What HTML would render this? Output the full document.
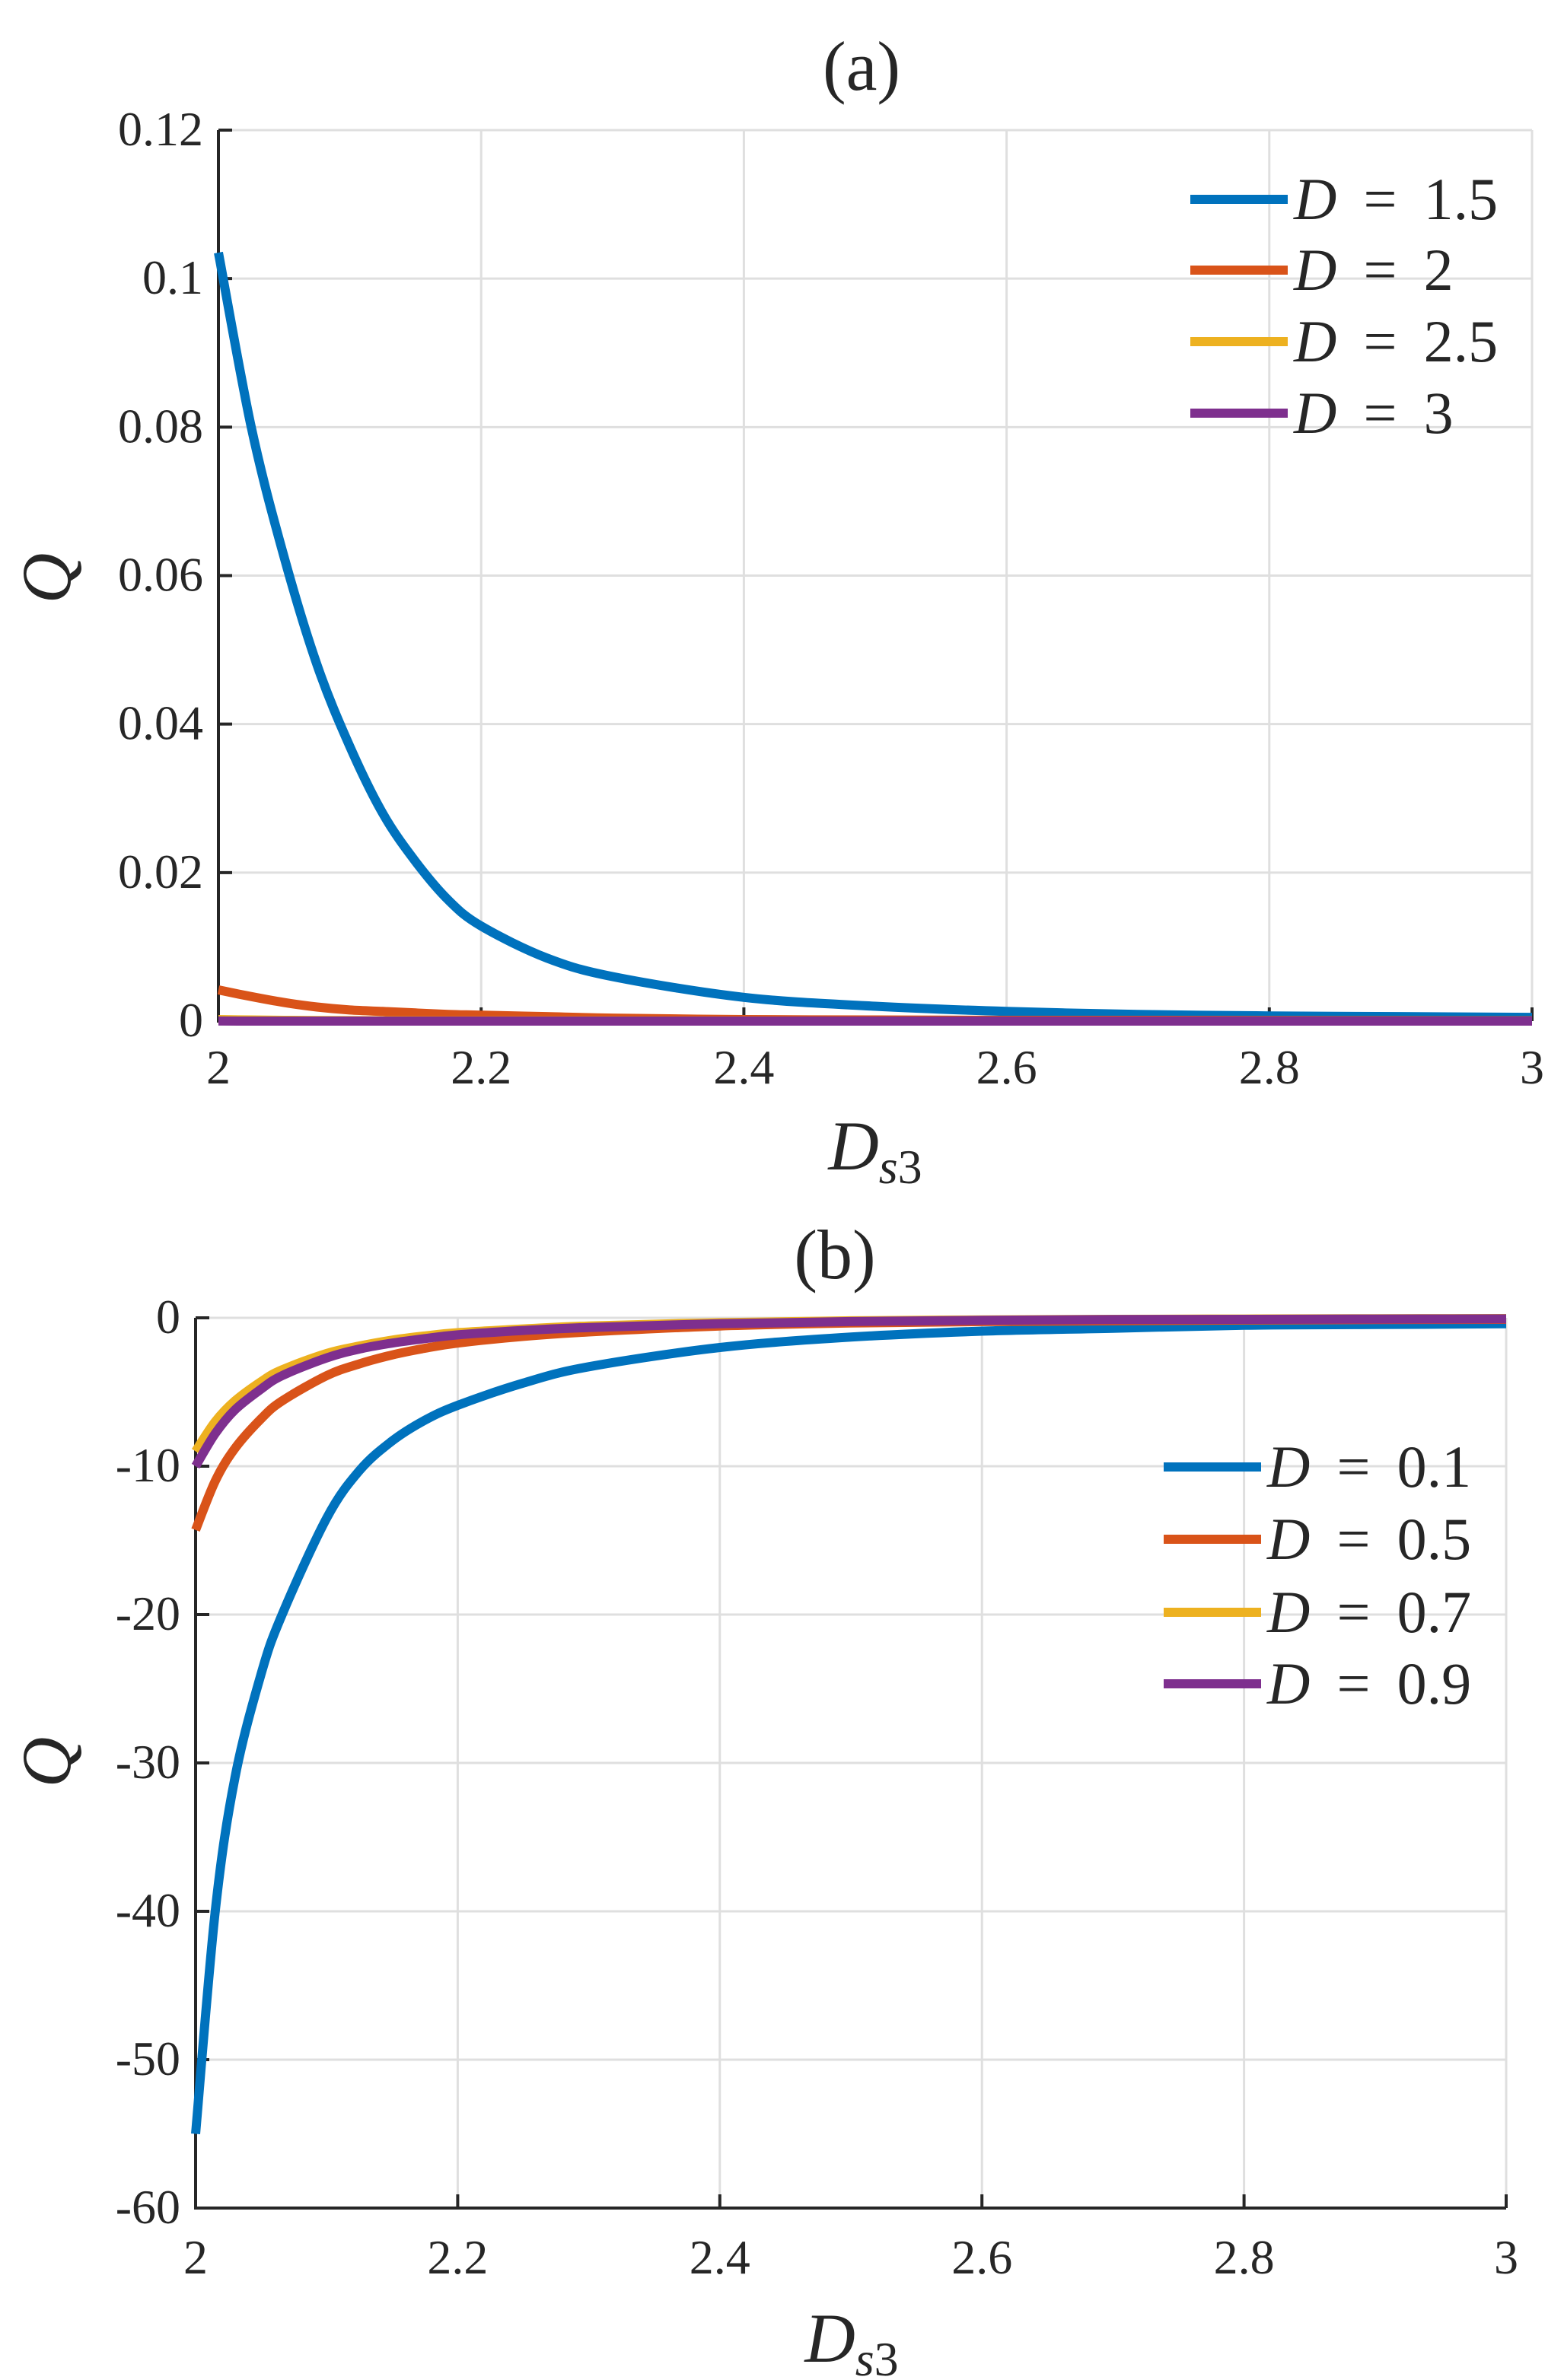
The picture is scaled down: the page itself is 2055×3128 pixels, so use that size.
<!DOCTYPE html>
<html><head><meta charset="utf-8"><style>
html,body{margin:0;padding:0;background:#fff;}
svg{display:block;}
text{font-family:"Liberation Serif",serif;fill:#262626;}
</style></head><body>
<svg id="fig" width="2055" height="3128" viewBox="0 0 2055 3128" xmlns="http://www.w3.org/2000/svg"></svg>
<script>
// ---- Panel (a) data ----
const xA = [2, 2.025, 2.05, 2.075, 2.1, 2.125, 2.15, 2.175, 2.2, 2.25, 2.3, 2.4, 2.5, 2.6, 2.7, 2.8, 2.9, 3];
const aD15 = [0.1035, 0.080, 0.0625, 0.048, 0.037, 0.028, 0.0215, 0.0163, 0.0128, 0.0085, 0.0060, 0.0032, 0.0020, 0.0013, 0.0009, 0.0007, 0.0006, 0.0005];
const aD2 = [0.0042, 0.0033, 0.0025, 0.0019, 0.0015, 0.0013, 0.0011, 0.0009, 0.0008, 0.0006, 0.0004, 0.0002, 0.00015, 0.0001, 0.0001, 0.00008, 0.00006, 0.00005];
const aD25 = [0.0002, 0.00015, 0.0001, 0.00008, 0.00006, 0.00005, 0.00004, 0.00003, 0.00003, 0.00002, 0.00002, 0.00001, 0, 0, 0, 0, 0, 0];
const aD3 = [0.00001, 0, 0, 0, 0, 0, 0, 0, 0, 0, 0, 0, 0, 0, 0, 0, 0, 0];
const aLabels = ["D = 1.5", "D = 2", "D = 2.5", "D = 3"];
const aYTicks = [0, 0.02, 0.04, 0.06, 0.08, 0.1, 0.12];
const aYTickLabels = ["0", "0.02", "0.04", "0.06", "0.08", "0.1", "0.12"];
// ---- Panel (b) data ----
const xB = [2, 2.015, 2.03, 2.05, 2.066, 2.1, 2.125, 2.15, 2.175, 2.2, 2.25, 2.3, 2.4, 2.5, 2.6, 2.7, 2.8, 2.9, 3];
const bD01 = [-55, -40, -31, -24, -20, -13.5, -10.3, -8.3, -6.9, -5.9, -4.4, -3.3, -2.0, -1.3, -0.9, -0.7, -0.5, -0.45, -0.4];
const bD05 = [-14.3, -11, -8.8, -6.8, -5.6, -3.9, -3.1, -2.5, -2.05, -1.7, -1.25, -0.95, -0.55, -0.35, -0.25, -0.2, -0.15, -0.12, -0.1];
const bD07 = [-9, -7.0, -5.6, -4.3, -3.5, -2.4, -1.9, -1.5, -1.22, -1.0, -0.75, -0.55, -0.33, -0.2, -0.14, -0.1, -0.08, -0.06, -0.05];
const bD09 = [-10, -7.8, -6.2, -4.8, -3.9, -2.7, -2.1, -1.7, -1.4, -1.15, -0.85, -0.65, -0.4, -0.25, -0.17, -0.12, -0.1, -0.08, -0.07];
const bLabels = ["D = 0.1", "D = 0.5", "D = 0.7", "D = 0.9"];
const bYTicks = [-60, -50, -40, -30, -20, -10, 0];
const bYTickLabels = ["-60", "-50", "-40", "-30", "-20", "-10", "0"];
const xTicks = [2, 2.2, 2.4, 2.6, 2.8, 3];
const xTickLabels = ["2", "2.2", "2.4", "2.6", "2.8", "3"];
const colors = ["#0072BD", "#D95319", "#EDB120", "#7E2F8E"];

const NS = "http://www.w3.org/2000/svg";
const svg = document.getElementById("fig");
function mk(tag, attrs, parent) {
  const e = document.createElementNS(NS, tag);
  for (const k in attrs) e.setAttribute(k, attrs[k]);
  (parent || svg).appendChild(e);
  return e;
}
function smoothPath(pts) {
  let d = "M" + pts[0][0].toFixed(1) + "," + pts[0][1].toFixed(1);
  for (let i = 0; i < pts.length - 1; i++) {
    const p0 = pts[i - 1] || pts[i], p1 = pts[i], p2 = pts[i + 1], p3 = pts[i + 2] || p2;
    const c1 = [p1[0] + (p2[0] - p0[0]) / 6, p1[1] + (p2[1] - p0[1]) / 6];
    const c2 = [p2[0] - (p3[0] - p1[0]) / 6, p2[1] - (p3[1] - p1[1]) / 6];
    d += " C" + c1[0].toFixed(1) + "," + c1[1].toFixed(1) + " " + c2[0].toFixed(1) + "," + c2[1].toFixed(1) + " " + p2[0].toFixed(1) + "," + p2[1].toFixed(1);
  }
  return d;
}

function panel(cfg) {
  const g = mk("g", {});
  
  
  const sx = v => cfg.L + (v - 2) / 1 * (cfg.R - cfg.L);
  const sy = v => cfg.B - (v - cfg.ymin) / (cfg.ymax - cfg.ymin) * (cfg.B - cfg.T);
  xTicks.forEach(t => {
    const l = mk("line", {x1: sx(t), x2: sx(t), y1: cfg.T, y2: cfg.B, stroke: "#dfdfdf", "stroke-width": 3}, g);
    
    
  });
  cfg.yTicks.forEach(t => {
    const l = mk("line", {x1: cfg.L, x2: cfg.R, y1: sy(t), y2: sy(t), stroke: "#dfdfdf", "stroke-width": 3}, g);
    
    
  });
  const ax = mk("path", {d: `M${cfg.L},${cfg.T} L${cfg.L},${cfg.B} L${cfg.R},${cfg.B}`, fill: "none", stroke: "#262626", "stroke-width": 4}, g);
  
  
  xTicks.forEach(t => { mk("line", {x1: sx(t), x2: sx(t), y1: cfg.B, y2: cfg.B - 18, stroke: "#262626", "stroke-width": 4}, g); });
  cfg.yTicks.forEach(t => { mk("line", {x1: cfg.L, x2: cfg.L + 18, y1: sy(t), y2: sy(t), stroke: "#262626", "stroke-width": 4}, g); });
  xTicks.forEach((t, i) => {
    const tx = mk("text", {x: sx(t), y: cfg.xLabY, "text-anchor": "middle", "font-size": 64}, g);
    tx.textContent = xTickLabels[i];
    
    
  });
  cfg.yTicks.forEach((t, i) => {
    const tx = mk("text", {x: cfg.L - 20, y: sy(t) + 20, "text-anchor": "end", "font-size": 64}, g);
    tx.textContent = cfg.yTickLabels[i];
    
    
  });
  cfg.series.forEach((s, i) => {
    const pts = cfg.xs.map((x, j) => [sx(x), sy(s[j])]);
    const p = mk("path", {d: smoothPath(pts), fill: "none", stroke: colors[i], "stroke-width": 12, "stroke-linejoin": "round"}, g);
    
    
  });
  const ti = mk("text", {x: cfg.titleX, y: cfg.titleY, "text-anchor": "middle", "font-size": 92}, g);
  ti.textContent = cfg.title;
  
  
  const xt = mk("text", {x: cfg.xTitleX, y: cfg.xTitleY, "text-anchor": "middle", "font-size": 92, "font-style": "italic"}, g);
  
  
  xt.appendChild(document.createTextNode("D"));
  const sub = mk("tspan", {"font-size": 64, dy: 18}, xt);
  sub.textContent = "s";
  const sub3 = mk("tspan", {"font-size": 64, "font-style": "normal"}, xt);
  sub3.textContent = "3";
  const yt = mk("text", {x: 0, y: 0, "text-anchor": "middle", "font-size": 92, "font-style": "italic", transform: `translate(${cfg.yTitleX},${cfg.yTitleY}) rotate(-90)`}, g);
  yt.textContent = "Q";
  
  
  cfg.labels.forEach((lab, i) => {
    const y = cfg.legY[i];
    const ll = mk("line", {x1: cfg.legX, x2: cfg.legX + 128, y1: y, y2: y, stroke: colors[i], "stroke-width": 12}, g);
    
    
    const lt = mk("text", {x: cfg.legX + 136, y: y + 26, "font-size": 78}, g);
    
    
    const parts = lab.split(" = ");
    const d = mk("tspan", {"font-style": "italic"}, lt); d.textContent = parts[0];
    const r = mk("tspan", {}, lt); r.textContent = " \u2009=\u2009 " + parts[1];
  });
}

panel({name: "panel-a", L: 287, R: 2013, T: 171, B: 1342, ymin: 0, ymax: 0.12,
  yTicks: aYTicks, yTickLabels: aYTickLabels, xs: xA, series: [aD15, aD2, aD25, aD3],
  xLabY: 1424, title: "(a)", titleX: 1132, titleY: 118, xTitleX: 1150, xTitleY: 1537,
  yTitleX: 92, yTitleY: 760, labels: aLabels, legX: 1564, legY: [262, 355, 449, 543]});
panel({name: "panel-b", L: 257, R: 1979, T: 1732, B: 2902, ymin: -60, ymax: 0,
  yTicks: bYTicks, yTickLabels: bYTickLabels, xs: xB, series: [bD01, bD05, bD07, bD09],
  xLabY: 2988, title: "(b)", titleX: 1097, titleY: 1680, xTitleX: 1119, xTitleY: 3104,
  yTitleX: 92, yTitleY: 2316, labels: bLabels, legX: 1529, legY: [1928, 2023, 2119, 2213]});
</script>
</body></html>
